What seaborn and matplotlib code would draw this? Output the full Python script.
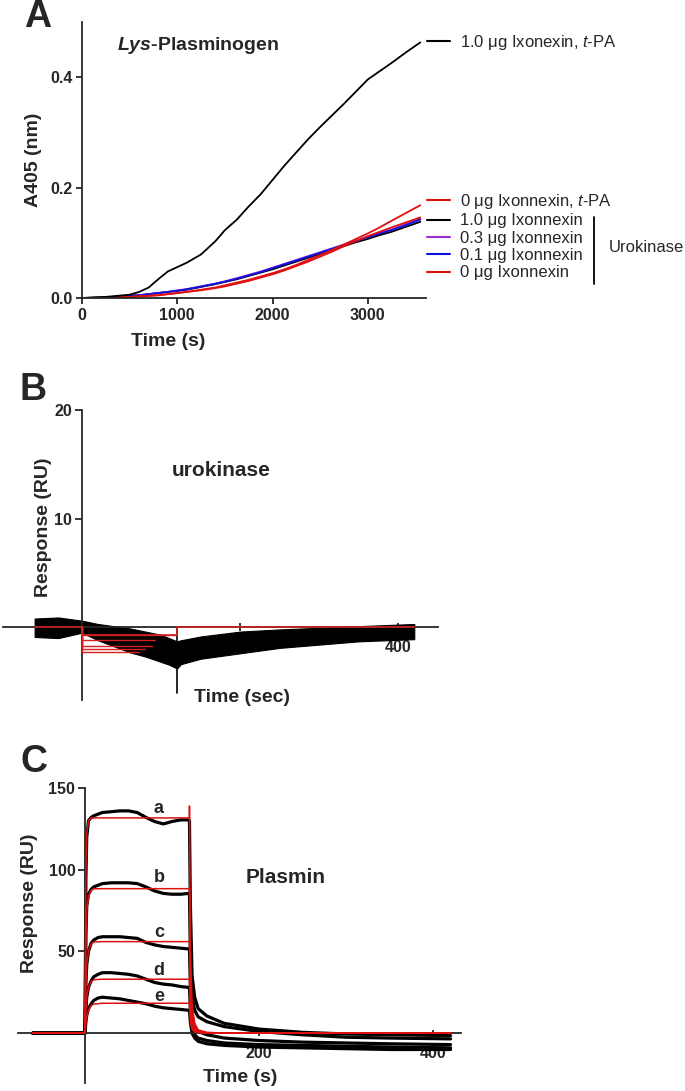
import numpy as np
import pandas as pd
import seaborn as sns
import matplotlib.pyplot as plt
from matplotlib.lines import Line2D

sns.set_style("ticks")
plt.rcParams['font.family'] = ['Liberation Sans', 'DejaVu Sans']
plt.rcParams['mathtext.fontset'] = 'custom'
plt.rcParams['mathtext.rm'] = 'Liberation Sans'
plt.rcParams['mathtext.it'] = 'Liberation Sans:italic'
plt.rcParams['mathtext.bf'] = 'Liberation Sans:bold'
plt.rcParams['mathtext.bfit'] = 'Liberation Sans:bold:italic'

# ---- Panel A: chromogenic plasmin generation ----
time_a = [0, 250, 500, 600, 700, 800, 900, 1000, 1100, 1250, 1400, 1500, 1625, 1750, 1875, 2000, 2125,
          2250, 2375, 2500, 2625, 2750, 2875, 3000, 3125, 3250, 3400, 3550]
tpa_ixo_10 = [0, 0.002, 0.006, 0.011, 0.019, 0.034, 0.048, 0.056, 0.064, 0.079, 0.103, 0.123, 0.142,
              0.166, 0.188, 0.214, 0.240, 0.264, 0.288, 0.310, 0.331, 0.352, 0.374, 0.396, 0.411,
              0.426, 0.445, 0.463]
tpa_ixo_0 = [0, 0.0005, 0.002, 0.003, 0.004, 0.005, 0.007, 0.009, 0.011, 0.015, 0.019, 0.023, 0.028,
             0.033, 0.039, 0.045, 0.052, 0.060, 0.069, 0.078, 0.087, 0.097, 0.107, 0.117, 0.128,
             0.140, 0.154, 0.168]
uk_ixo_10 = [0, 0.001, 0.004, 0.005, 0.007, 0.009, 0.011, 0.013, 0.015, 0.020, 0.025, 0.029, 0.034,
             0.040, 0.046, 0.052, 0.059, 0.066, 0.073, 0.080, 0.087, 0.094, 0.101, 0.107, 0.114,
             0.120, 0.129, 0.138]
uk_ixo_03 = [0, 0.001, 0.004, 0.005, 0.007, 0.009, 0.011, 0.014, 0.016, 0.021, 0.026, 0.030, 0.036,
             0.042, 0.048, 0.055, 0.062, 0.069, 0.076, 0.083, 0.090, 0.097, 0.104, 0.111, 0.118,
             0.124, 0.134, 0.144]
uk_ixo_01 = [0, 0.001, 0.004, 0.005, 0.007, 0.009, 0.011, 0.013, 0.016, 0.021, 0.026, 0.030, 0.035,
             0.041, 0.047, 0.054, 0.061, 0.068, 0.075, 0.082, 0.089, 0.096, 0.103, 0.110, 0.117,
             0.123, 0.132, 0.142]
uk_ixo_0 = [0, 0.0005, 0.002, 0.003, 0.004, 0.005, 0.007, 0.009, 0.011, 0.014, 0.018, 0.021, 0.026,
            0.031, 0.037, 0.043, 0.050, 0.058, 0.066, 0.075, 0.084, 0.094, 0.103, 0.112, 0.120,
            0.128, 0.137, 0.146]

# ---- Panel B: SPR, urokinase (noisy band envelope) ----
time_b = [-60, -30, 0, 20, 40, 60, 80, 100, 110, 120, 125, 150, 200, 250, 300, 350, 420]
b_upper = [0.8, 0.9, 0.6, 0.3, 0.1, -0.1, -0.4, -0.7, -1.0, -1.3, -1.2, -0.85, -0.4, -0.2, -0.05, 0.1, 0.3]
b_lower = [-0.9, -1.0, -0.5, -1.2, -1.75, -2.3, -2.7, -3.2, -3.45, -3.8, -3.4, -2.9, -2.4, -1.9, -1.6, -1.3, -1.1]
b_spike_t = [120, 120]
b_spike_v = [0.0, -6.1]
b_fit_levels = [-0.7, -1.2, -1.75, -2.0, -2.25]
b_fit_ends = [120, 92, 88, 80, 72]

# ---- Panel C: SPR, plasmin ----
time_c = [-60, -1, 0, 1, 2, 4, 7, 10, 15, 20, 30, 40, 50, 60, 70, 80, 90, 100, 110, 119, 120,
          121, 123, 126, 130, 140, 160, 200, 250, 300, 350, 420]
c_a = [0, 0, 0, 95, 120, 130, 132, 133, 134, 135, 135.5, 136, 136, 135, 132, 129.5, 128, 129.5, 130.5, 130.5, 130,
       80, 35, 22, 15, 10.5, 6, 2.5, 0.5, -0.5, -1, -1.5]
c_b = [0, 0, 0, 60, 78, 85, 88, 89.5, 90.5, 91.5, 92, 92, 92, 91.5, 89.5, 87, 85.5, 85, 85, 85.5, 85,
       50, 22, 14, 10, 7, 4, 1, -1, -2.5, -3, -3.5]
c_c = [0, 0, 0, 30, 42, 50, 55, 57, 58.5, 59, 59, 59, 58.5, 58, 55.5, 54, 53, 52.5, 52, 51.5, 51.5,
       30, 10, 4, 1, -1, -3, -4.5, -5.5, -6, -6.5, -7]
c_d = [0, 0, 0, 14, 22, 28, 32, 34.5, 36, 37, 37, 36.5, 36, 35, 33, 31, 30, 29.5, 28.5, 28, 28,
       15, 4, -1, -3, -4.5, -6, -7, -7.5, -8, -8.5, -9]
c_e = [0, 0, 0, 7, 11, 15, 18, 20, 21.5, 22, 21.5, 21, 20, 19, 18, 16.5, 15.5, 15, 14.5, 14, 14,
       7, 0, -3, -5, -6.5, -7.5, -8.5, -9, -9.5, -10, -10]
time_fit = [-60, 0, 1, 2, 4, 7, 10, 20, 120, 120, 121, 123, 126, 130, 140, 160, 420]
fit_a = [0, 0, 100, 122, 130, 131.5, 131.7, 131.7, 131.7, 139, 55, 18, 6, 2, 0.5, 0, 0]
fit_b = [0, 0, 55, 75, 84, 87.5, 88.3, 88.4, 88.4, 88.4, 35, 11, 4, 1.2, 0.3, 0, 0]
fit_c = [0, 0, 30, 42, 50, 54.5, 55.8, 56, 56, 56, 22, 7, 2.5, 0.8, 0.2, 0, 0]
fit_d = [0, 0, 14, 22, 28, 31.5, 32.7, 33, 33, 33, 13, 4, 1.5, 0.5, 0.1, 0, 0]
fit_e = [0, 0, 6, 10, 14, 16.8, 17.8, 18.3, 18.3, 18.3, 7, 2.2, 0.8, 0.3, 0.1, 0, 0]
curve_labels = ['a', 'b', 'c', 'd', 'e']
curve_label_y = [137.5, 95.5, 61.3, 38.6, 22.7]

W, H = 685, 1091
fig = plt.figure(figsize=(W / 100, H / 100), dpi=100)


def fpos(x, y):
    return x / W, 1 - y / H


def add_ax(x0, y0, x1, y1):
    return fig.add_axes([x0 / W, 1 - y1 / H, (x1 - x0) / W, (y1 - y0) / H])


lab_font = dict(fontsize=14, fontweight='bold')

# ================= A =================
axA = add_ax(82, 22, 426, 298)
sns.lineplot(x=time_a, y=uk_ixo_10, ax=axA, color='black', lw=1.3, label='1.0 μg Ixonnexin')
sns.lineplot(x=time_a, y=uk_ixo_03, ax=axA, color='#9b30d0', lw=1.3, label='0.3 μg Ixonnexin')
sns.lineplot(x=time_a, y=uk_ixo_01, ax=axA, color='#1010e0', lw=1.3, label='0.1 μg Ixonnexin')
sns.lineplot(x=time_a, y=uk_ixo_0, ax=axA, color='#e01010', lw=1.3, label='0 μg Ixonnexin')
sns.lineplot(x=time_a, y=tpa_ixo_0, ax=axA, color='#e01010', lw=1.3, label=r'0 μg Ixonnexin, $\it{t}$-PA')
sns.lineplot(x=time_a, y=tpa_ixo_10, ax=axA, color='black', lw=1.3, label=r'1.0 μg Ixonexin, $\it{t}$-PA')
axA.get_legend().remove()
axA.set_xlim(0, 3610)
axA.set_ylim(0, 0.5)
axA.set_xticks([0, 1000, 2000, 3000])
axA.set_yticks([0.0, 0.2, 0.4])
axA.set_yticklabels(['0.0', '0.2', '0.4'])
axA.set_xlabel('')
axA.set_ylabel('')
for s in ['top', 'right']:
    axA.spines[s].set_visible(False)
for s in ['left', 'bottom']:
    axA.spines[s].set_linewidth(1.3)
axA.tick_params(width=1.3, length=4, pad=3)
for t in axA.get_xticklabels() + axA.get_yticklabels():
    t.set_fontsize(11.5)
    t.set_fontweight('bold')

handles, labels = axA.get_legend_handles_labels()
hmap = dict(zip(labels, handles))
order_top = [r'1.0 μg Ixonexin, $\it{t}$-PA']
order_low = [r'0 μg Ixonnexin, $\it{t}$-PA', '1.0 μg Ixonnexin', '0.3 μg Ixonnexin',
             '0.1 μg Ixonnexin', '0 μg Ixonnexin']
leg_kw = dict(frameon=False, fontsize=12, handlelength=1.35, handletextpad=0.6,
              borderaxespad=0, borderpad=0, loc='upper left')
legA1 = fig.legend([Line2D([], [], color='black', lw=1.5)], order_top,
                   bbox_to_anchor=fpos(427, 33), **leg_kw)
low_handles = [Line2D([], [], color=hmap[l].get_color(), lw=1.5) for l in order_low]
legA2 = fig.legend(low_handles, order_low, bbox_to_anchor=fpos(427, 192), labelspacing=0.14, **leg_kw)
fig.add_artist(Line2D([594 / W, 594 / W], [1 - 217 / H, 1 - 284 / H], color='black', lw=1.3))
fig.text(*fpos(609, 247), 'Urokinase', fontsize=12, va='center', ha='left')
fig.text(*fpos(117, 45), r'$\mathbfit{Lys}$-Plasminogen', fontsize=14, fontweight='bold', va='center')
fig.text(*fpos(33, 160), 'A405 (nm)', rotation=90, va='center', ha='center', **lab_font)
fig.text(*fpos(168, 342), 'Time (s)', va='center', ha='center', **lab_font)
fig.text(*fpos(24, 17), 'A', fontsize=27, fontweight='bold', va='center', ha='left')

# ================= B =================
axB = add_ax(3, 410, 438, 700)
axB.fill_between(time_b, b_lower, b_upper, color='black', lw=0.8, zorder=2)
sns.lineplot(x=b_spike_t, y=b_spike_v, ax=axB, color='black', lw=1.2, sort=False, estimator=None)
for lev, end in zip(b_fit_levels, b_fit_ends):
    sns.lineplot(x=[0, 0, end], y=[0, lev, lev], ax=axB, color='#d42020', lw=1.0,
                 sort=False, estimator=None, zorder=3)
sns.lineplot(x=[-60, 0, 0, 120, 120, 420], y=[0, 0, b_fit_levels[0], b_fit_levels[0], 0, 0],
             ax=axB, color='#d42020', lw=1.2, sort=False, estimator=None, zorder=3)
axB.set_xlim(-100, 450)
axB.set_ylim(-6.7, 20)
axB.set_xticks([200, 400])
axB.set_yticks([10, 20])
axB.spines['left'].set_position(('data', 0))
axB.spines['bottom'].set_position(('data', 0))
for s in ['top', 'right']:
    axB.spines[s].set_visible(False)
for s in ['left', 'bottom']:
    axB.spines[s].set_linewidth(1.3)
axB.tick_params(axis='y', width=1.3, length=5, pad=2)
axB.tick_params(axis='x', width=1.3, length=6, direction='inout', pad=6)
for t in axB.get_xticklabels() + axB.get_yticklabels():
    t.set_fontsize(11.5)
    t.set_fontweight('bold')
axB.set_xlabel('')
axB.set_ylabel('')
axB.text(176, 14.4, 'urokinase', fontsize=15, fontweight='bold', ha='center', va='center')
fig.text(*fpos(43, 527), 'Response (RU)', rotation=90, va='center', ha='center', **lab_font)
fig.text(*fpos(242, 697), 'Time (sec)', va='center', ha='center', **lab_font)
fig.text(*fpos(20, 390), 'B', fontsize=27, fontweight='bold', va='center', ha='left')

# ================= C =================
axC = add_ax(18, 788, 461, 1083)
for vals in [c_a, c_b, c_c, c_d, c_e]:
    sns.lineplot(x=time_c, y=vals, ax=axC, color='black', lw=2.3, sort=False, estimator=None, zorder=2)
for vals in [fit_a, fit_b, fit_c, fit_d, fit_e]:
    sns.lineplot(x=time_fit, y=vals, ax=axC, color='#e01010', lw=1.1, sort=False, estimator=None, zorder=3)
for lab, yv in zip(curve_labels, curve_label_y):
    axC.text(85, yv, lab, fontsize=13, fontweight='bold', ha='center', va='center')
axC.text(231, 95.5, 'Plasmin', fontsize=15, fontweight='bold', ha='center', va='center')
axC.set_xlim(-77, 432)
axC.set_ylim(-30.5, 150)
axC.set_xticks([200, 400])
axC.set_yticks([50, 100, 150])
axC.spines['left'].set_position(('data', 0))
axC.spines['bottom'].set_position(('data', 0))
for s in ['top', 'right']:
    axC.spines[s].set_visible(False)
for s in ['left', 'bottom']:
    axC.spines[s].set_linewidth(1.3)
axC.tick_params(axis='y', width=1.3, length=5, pad=2)
axC.tick_params(axis='x', width=1.3, length=4, direction='inout', pad=7)
for t in axC.get_xticklabels() + axC.get_yticklabels():
    t.set_fontsize(11.5)
    t.set_fontweight('bold')
axC.set_xlabel('')
axC.set_ylabel('')
fig.text(*fpos(30, 903), 'Response (RU)', rotation=90, va='center', ha='center', **lab_font)
fig.text(*fpos(240, 1077), 'Time (s)', va='center', ha='center', **lab_font)
fig.text(*fpos(20, 762), 'C', fontsize=27, fontweight='bold', va='center', ha='left')

fig.savefig('out.png', dpi=100)
